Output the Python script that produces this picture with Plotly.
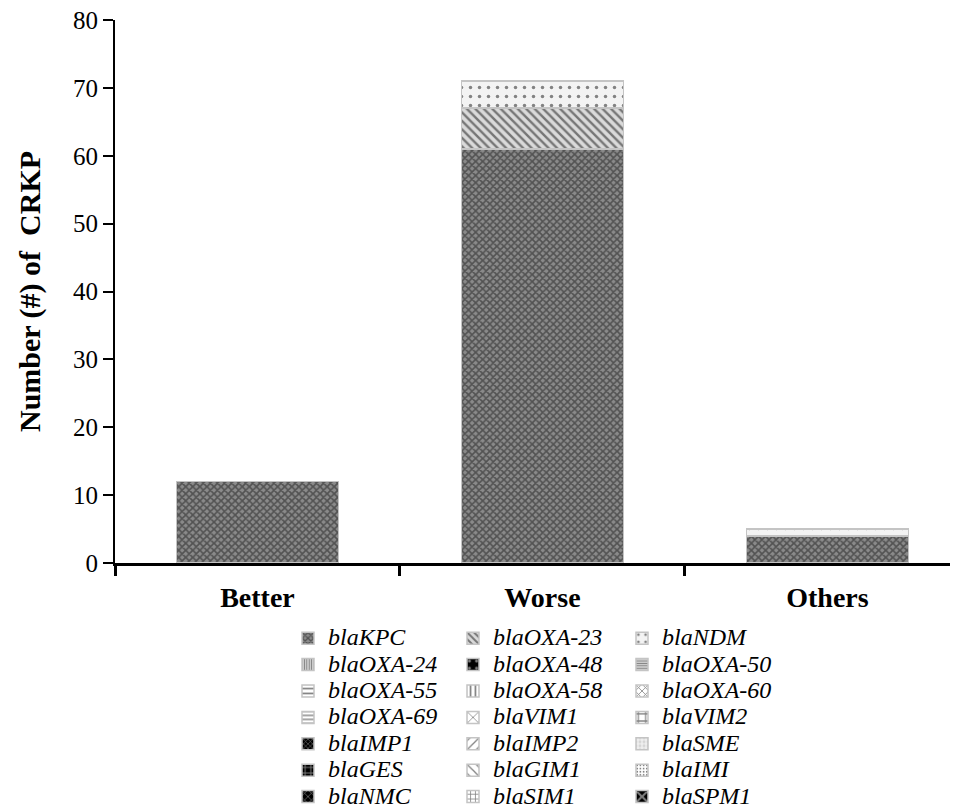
import plotly.graph_objects as go

# ---- data ----
categories = ["Better", "Worse", "Others"]

bla_kpc = [12, 61, 4]
bla_oxa23 = [0, 6, 0]
bla_ndm = [0, 4, 1]
bla_oxa24 = [0, 0, 0]
bla_oxa48 = [0, 0, 0]
bla_oxa50 = [0, 0, 0]
bla_oxa55 = [0, 0, 0]
bla_oxa58 = [0, 0, 0]
bla_oxa60 = [0, 0, 0]
bla_oxa69 = [0, 0, 0]
bla_vim1 = [0, 0, 0]
bla_vim2 = [0, 0, 0]
bla_imp1 = [0, 0, 0]
bla_imp2 = [0, 0, 0]
bla_sme = [0, 0, 0]
bla_ges = [0, 0, 0]
bla_gim1 = [0, 0, 0]
bla_imi = [0, 0, 0]
bla_nmc = [0, 0, 0]
bla_sim1 = [0, 0, 0]
bla_spm1 = [0, 0, 0]

y_ticks = [0, 10, 20, 30, 40, 50, 60, 70, 80]

# (name, values, legend column)
series = [
    ("blaKPC", bla_kpc, "legend"),
    ("blaOXA-23", bla_oxa23, "legend2"),
    ("blaNDM", bla_ndm, "legend3"),
    ("blaOXA-24", bla_oxa24, "legend"),
    ("blaOXA-48", bla_oxa48, "legend2"),
    ("blaOXA-50", bla_oxa50, "legend3"),
    ("blaOXA-55", bla_oxa55, "legend"),
    ("blaOXA-58", bla_oxa58, "legend2"),
    ("blaOXA-60", bla_oxa60, "legend3"),
    ("blaOXA-69", bla_oxa69, "legend"),
    ("blaVIM1", bla_vim1, "legend2"),
    ("blaVIM2", bla_vim2, "legend3"),
    ("blaIMP1", bla_imp1, "legend"),
    ("blaIMP2", bla_imp2, "legend2"),
    ("blaSME", bla_sme, "legend3"),
    ("blaGES", bla_ges, "legend"),
    ("blaGIM1", bla_gim1, "legend2"),
    ("blaIMI", bla_imi, "legend3"),
    ("blaNMC", bla_nmc, "legend"),
    ("blaSIM1", bla_sim1, "legend2"),
    ("blaSPM1", bla_spm1, "legend3"),
]

# pattern styles: shape, bgcolor, fgcolor, size, solidity
patterns = {
    "blaKPC": ("x", "#8a8a8a", "#1a1a1a", 5, 0.55),
    "blaOXA-23": ("\\", "#dadada", "#111111", 6, 0.4),
    "blaNDM": (".", "#f3f3f3", "#111111", 9, 0.12),
    "blaOXA-24": ("|", "#ffffff", "#000000", 3, 0.6),
    "blaOXA-48": (".", "#000000", "#ffffff", 9, 0.15),
    "blaOXA-50": ("-", "#ffffff", "#000000", 3, 0.6),
    "blaOXA-55": ("-", "#ffffff", "#000000", 6, 0.35),
    "blaOXA-58": ("|", "#ffffff", "#000000", 6, 0.35),
    "blaOXA-60": ("x", "#ffffff", "#000000", 6, 0.3),
    "blaOXA-69": ("-", "#ffffff", "#000000", 5, 0.35),
    "blaVIM1": ("x", "#ffffff", "#000000", 9, 0.2),
    "blaVIM2": ("+", "#ffffff", "#000000", 9, 0.3),
    "blaIMP1": ("x", "#000000", "#ffffff", 4, 0.3),
    "blaIMP2": ("/", "#ffffff", "#000000", 8, 0.2),
    "blaSME": (".", "#eeeeee", "#bbbbbb", 5, 0.4),
    "blaGES": ("+", "#000000", "#ffffff", 7, 0.3),
    "blaGIM1": ("\\", "#ffffff", "#000000", 8, 0.2),
    "blaIMI": (".", "#ffffff", "#000000", 4, 0.25),
    "blaNMC": ("x", "#000000", "#ffffff", 6, 0.25),
    "blaSIM1": ("+", "#ffffff", "#000000", 6, 0.3),
    "blaSPM1": ("x", "#000000", "#ffffff", 10, 0.45),
}

fig = go.Figure()
for name, vals, leg in series:
    shp, bg, fg, sz, sol = patterns[name]
    fig.add_trace(go.Bar(
        x=categories,
        y=vals,
        name='<span style="font-size:24px">' + name + '</span>',
        legend=leg,
        marker=dict(
            color=bg,
            line=dict(color="#c4c4c4", width=1.5),
            pattern=dict(shape=shp, bgcolor=bg, fgcolor=fg, size=sz,
                         solidity=sol, fillmode="overlay"),
        ),
        hoverinfo="skip",
    ))

# page body has an 8px margin, so the figure is drawn 8px smaller and offset
PLOT_W = 843
legend_common = dict(
    orientation="v",
    xanchor="left",
    yanchor="top",
    y=-0.105,
    bgcolor="rgba(0,0,0,0)",
    borderwidth=0,
    traceorder="normal",
    font=dict(family="Liberation Serif", size=18, color="#000000", style="italic"),
)

fig.update_layout(
    width=950,
    height=800,
    barmode="stack",
    bargap=0.43,
    plot_bgcolor="#ffffff",
    paper_bgcolor="#ffffff",
    margin=dict(l=107, r=0, t=12, b=245, autoexpand=False),
    font=dict(family="Liberation Serif", color="#000000"),
    legend=dict(x=(288 - 115) / PLOT_W, **legend_common),
    legend2=dict(x=(453 - 115) / PLOT_W, **legend_common),
    legend3=dict(x=(622 - 115) / PLOT_W, **legend_common),
    xaxis=dict(
        type="category",
        range=[-0.5, 2.458],
        tickson="boundaries",
        ticks="outside",
        ticklen=10,
        tickwidth=2.5,
        tickcolor="#000000",
        showline=True,
        linecolor="#000000",
        linewidth=2.5,
        showgrid=False,
        ticklabelstandoff=8,
        tickfont=dict(family="Liberation Serif", size=28, weight="bold", color="#000000"),
    ),
    yaxis=dict(
        range=[0, 80],
        tickvals=y_ticks,
        ticks="outside",
        ticklen=10,
        tickwidth=2,
        tickcolor="#000000",
        showline=True,
        linecolor="#000000",
        linewidth=2,
        showgrid=False,
        zeroline=False,
        ticklabeloverflow="allow",
        tickfont=dict(family="Liberation Serif", size=25, color="#000000"),
        title=dict(
            text="Number (#) of\u00a0 CRKP",
            font=dict(family="Liberation Serif", size=30, weight="bold", color="#000000"),
            standoff=24,
        ),
    ),
)

fig.write_html("out.html")
